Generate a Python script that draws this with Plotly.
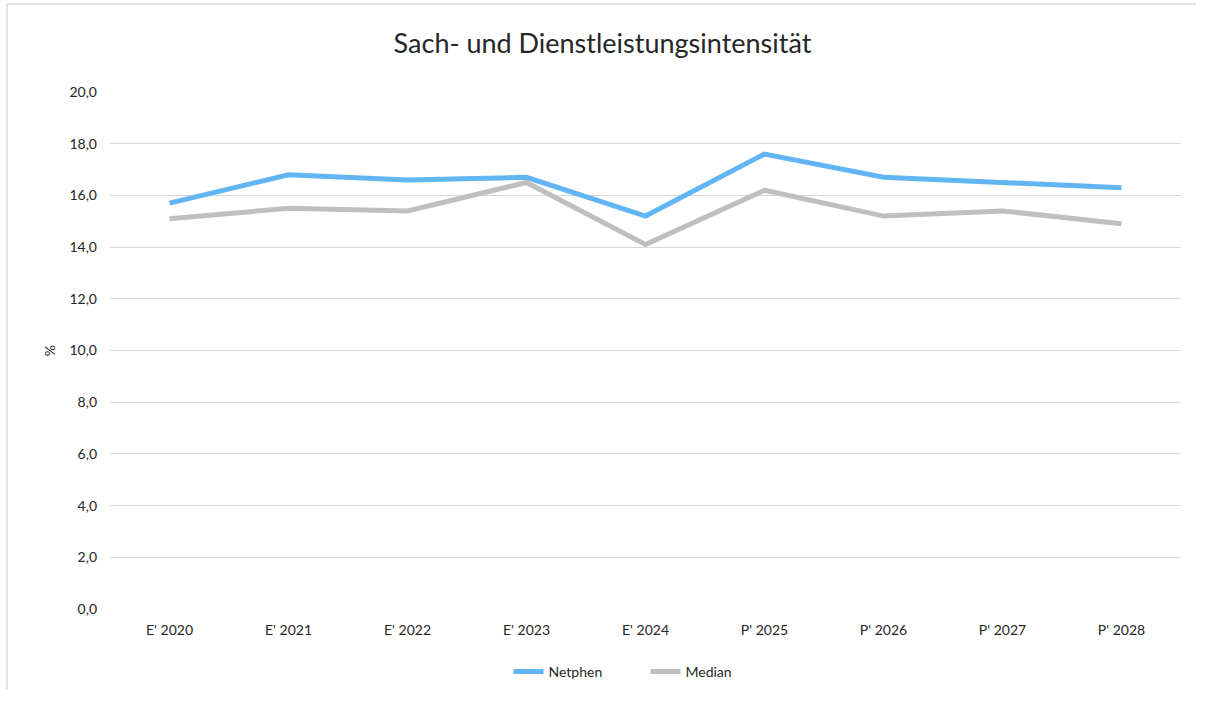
import plotly.graph_objects as go

categories = ["E' 2020", "E' 2021", "E' 2022", "E' 2023", "E' 2024", "P' 2025", "P' 2026", "P' 2027", "P' 2028"]
netphen = [15.7, 16.8, 16.6, 16.7, 15.2, 17.6, 16.7, 16.5, 16.3]
median = [15.1, 15.5, 15.4, 16.5, 14.1, 16.2, 15.2, 15.4, 14.9]
y_ticks = [0, 2, 4, 6, 8, 10, 12, 14, 16, 18, 20]

FONT = "Lato"

fig = go.Figure()
fig.add_trace(go.Scatter(x=categories, y=netphen, name="Netphen", mode="lines",
                         line=dict(color="#62b5f5", width=5)))
fig.add_trace(go.Scatter(x=categories, y=median, name="Median", mode="lines",
                         line=dict(color="#bfbfbf", width=5)))

L, R, T, B = 110, 1181, 92, 609
W, H = R - L, B - T
def px(x): return (x - L) / W
def py(y): return (B - y) / H

fig.update_layout(
    width=1205, height=702,
    margin=dict(l=L, r=1205 - R, t=T, b=702 - B),
    paper_bgcolor="white", plot_bgcolor="white",
    separators=",.",
    font=dict(family=FONT, size=14, color="#262626"),
    title=dict(text="Sach- und Dienstleistungsintensität", x=0.5, xanchor="center",
               y=1 - 44 / 702, yanchor="middle",
               font=dict(family=FONT, size=27, color="#262626")),
    xaxis=dict(type="category", range=[-0.5, 8.5], showgrid=False, showline=False,
               ticks="", ticklabelstandoff=11, tickfont=dict(size=14, color="#262626")),
    yaxis=dict(range=[0, 20], tickvals=y_ticks, tickformat=".1f", gridcolor="#d9d9d9",
               gridwidth=1, zeroline=False, showline=False, ticks="",
               ticklabelstandoff=12,
               tickfont=dict(size=14, color="#262626"),
               title=dict(text="%", font=dict(size=14, color="#262626"), standoff=10)),
    legend=dict(orientation="h", x=0.5, xanchor="center", y=py(672), yanchor="middle",
                font=dict(size=14, color="#262626"), traceorder="normal",
                entrywidth=92, entrywidthmode="pixels"),
    showlegend=True,
    shapes=[
        dict(type="line", xref="paper", yref="paper", x0=px(7), x1=px(1196), y0=py(4), y1=py(4),
             line=dict(color="#d9d9d9", width=1.5)),
        dict(type="line", xref="paper", yref="paper", x0=px(7), x1=px(7), y0=py(4), y1=py(690),
             line=dict(color="#d9d9d9", width=1.5)),
    ],
)

fig.write_html("out.html", config={"displayModeBar": False},
               post_script="document.body.style.margin='0';")
